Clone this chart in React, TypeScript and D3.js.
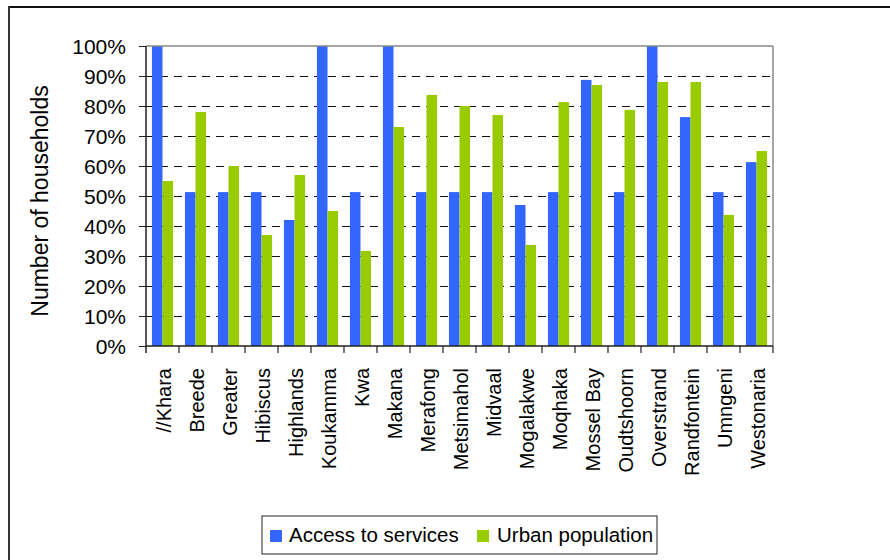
import React from "react";
import * as d3 from "d3";

const categories = ["//Khara", "Breede", "Greater", "Hibiscus", "Highlands", "Koukamma", "Kwa", "Makana", "Merafong", "Metsimahol", "Midvaal", "Mogalakwe", "Moqhaka", "Mossel Bay", "Oudtshoorn", "Overstrand", "Randfontein", "Umngeni", "Westonaria"];
const accessToServices = [100, 51.3, 51.3, 51.3, 42, 100, 51.3, 100, 51.3, 51.3, 51.3, 47, 51.3, 88.7, 51.3, 100, 76.3, 51.3, 61.3];
const urbanPopulation = [55, 78, 60, 37, 57, 45, 31.7, 73, 83.7, 80, 77, 33.7, 81.3, 87, 78.7, 88, 88, 43.7, 65];
const seriesNames = ["Access to services", "Urban population"];
const seriesColors = ["#3366FF", "#99CC00"];
const yTicks = [0, 10, 20, 30, 40, 50, 60, 70, 80, 90, 100];

const W = 890, H = 560;
const L = 146, R = 773, T = 46, B = 346;
const FONT = "'Liberation Sans', Arial, Helvetica, sans-serif";

export default function App() {
  const x0 = d3.scaleBand<string>().domain(categories).range([L, R]).padding(0);
  const bw = x0.bandwidth();
  const groupW = bw * 0.64;
  const x1 = d3.scaleBand<string>().domain(seriesNames).range([0, groupW]).padding(0);
  const y = d3.scaleLinear().domain([0, 100]).range([B, T]);
  const series = [accessToServices, urbanPopulation];

  return (
    <svg width={W} height={H} style={{ position: "absolute", left: 0, top: 0, background: "#fff" }} fontFamily={FONT}>
      <rect x={0} y={0} width={W} height={H} fill="#fff" />
      {/* outer frame */}
      <line x1={8} x2={W} y1={7} y2={7} stroke="#111" strokeWidth={2} />
      <line x1={9} x2={9} y1={6} y2={H} stroke="#333" strokeWidth={2} />

      {/* gridlines */}
      {yTicks.filter(t => t > 0 && t < 100).map(t => (
        <line key={t} x1={L} x2={R} y1={y(t) + 0.5} y2={y(t) + 0.5} stroke="#111" strokeWidth={1} strokeDasharray="8,6" shapeRendering="crispEdges" />
      ))}

      {/* bars */}
      {series.map((vals, si) => (
        <g key={si} fill={seriesColors[si]}>
          {categories.map((c, i) => {
            const gx = (x0(c) as number) + (bw - groupW) / 2;
            return (
              <rect key={c} x={gx + (x1(seriesNames[si]) as number)} y={y(vals[i])} width={x1.bandwidth()} height={B - y(vals[i])} />
            );
          })}
        </g>
      ))}

      {/* plot border top/right */}
      <line x1={L} x2={R} y1={T} y2={T} stroke="#888" strokeWidth={1.5} />
      <line x1={R} x2={R} y1={T} y2={B} stroke="#888" strokeWidth={1.5} />

      {/* y axis */}
      <line x1={L} x2={L} y1={T} y2={B + 7} stroke="#222" strokeWidth={1.5} />
      {yTicks.map(t => (
        <g key={t}>
          <line x1={L - 7} x2={L} y1={y(t) + 0.5} y2={y(t) + 0.5} stroke="#222" strokeWidth={1} shapeRendering="crispEdges" />
          <text x={126} y={y(t)} dy="0.36em" textAnchor="end" fontSize={21} fill="#000">{t}%</text>
        </g>
      ))}

      {/* x axis */}
      <line x1={L} x2={R} y1={B} y2={B} stroke="#222" strokeWidth={1.5} />
      {categories.map(c => (
        <line key={c} x1={(x0(c) as number) + bw} x2={(x0(c) as number) + bw} y1={B} y2={B + 7} stroke="#222" strokeWidth={1.2} />
      ))}
      {categories.map(c => {
        const cx = (x0(c) as number) + bw / 2;
        return (
          <text key={c} transform={`translate(${cx + 1},368) rotate(-90)`} dy="0.36em" textAnchor="end" fontSize={20} fill="#000">{c}</text>
        );
      })}

      {/* y title */}
      <text transform={`translate(40,${(T + B) / 2 + 5}) rotate(-90)`} dy="0.36em" textAnchor="middle" fontSize={23} fill="#000">Number of households</text>

      {/* legend */}
      <rect x={262} y={516} width={395} height={38} fill="#fff" stroke="#222" strokeWidth={1} />
      <rect x={270} y={530} width={12} height={12} fill={seriesColors[0]} />
      <text x={289} y={535} dy="0.36em" fontSize={20.5} fill="#000">{seriesNames[0]}</text>
      <rect x={477} y={530} width={12} height={12} fill={seriesColors[1]} />
      <text x={497} y={535} dy="0.36em" fontSize={20.5} fill="#000">{seriesNames[1]}</text>
    </svg>
  );
}
